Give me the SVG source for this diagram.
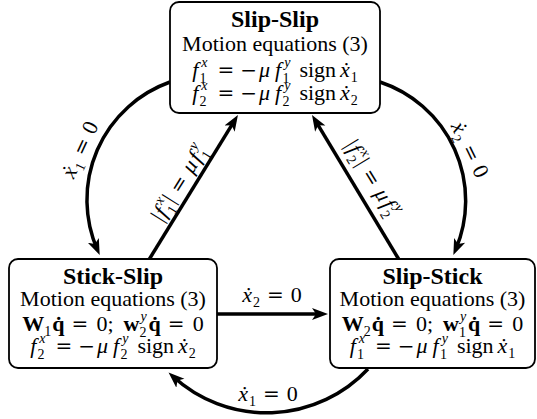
<svg xmlns="http://www.w3.org/2000/svg" width="537" height="419" viewBox="0 0 537 419">
<style>
.box{fill:#fff;stroke:#000;stroke-width:1.8}
.e{fill:none;stroke:#000;stroke-width:3.5;marker-end:url(#ah)}
.t{font-family:"Liberation Serif","Times New Roman",serif;font-size:22px;fill:#000;text-anchor:middle}
.h{font-size:24px;font-weight:bold}
.b{font-weight:bold}
.i{font-style:italic}
.s{font-size:14px}
.r{font-family:"DejaVu Serif","Liberation Serif",serif;font-size:20px;font-style:normal}
</style>
<defs>
<marker id="ah" markerUnits="userSpaceOnUse" markerWidth="18" markerHeight="14" viewBox="0 -7 18 14" refX="10" refY="0" orient="auto">
<path d="M0,-6 L16,0 L0,6 L4,0 Z" fill="#000"/>
</marker>
</defs>
<rect width="537" height="419" fill="#fff"/>
<g id="connectors">
<path class="e" d="M170,82 A125,125 0 0 0 97.3,249.6"/>
<path class="e" d="M380,82 A125,125 0 0 1 455.7,249.6"/>
<path class="e" d="M149.4,259 L234.8,120.1"/>
<path class="e" d="M398.6,259 L315.1,120.1"/>
<path class="e" d="M217,314 L322,314"/>
<path class="e" d="M368,369 A139,139 0 0 1 173,376.5"/>
<text class="t" transform="translate(81,150) rotate(-65)" x="0" y="6"><tspan class="i">ẋ</tspan><tspan class="s" dx="1" dy="5">1</tspan><tspan class="r" dx="7" dy="-5">=</tspan><tspan dx="7">0</tspan></text>
<text class="t" transform="translate(469,150) rotate(64)" x="0" y="6"><tspan class="i">ẋ</tspan><tspan class="s" dx="1" dy="5">2</tspan><tspan class="r" dx="7" dy="-5">=</tspan><tspan dx="7">0</tspan></text>
<text class="t" x="272" y="302"><tspan class="i">ẋ</tspan><tspan class="s" dx="1" dy="5">2</tspan><tspan class="r" dx="7" dy="-5">=</tspan><tspan dx="7">0</tspan></text>
<text class="t" x="268" y="401"><tspan class="i">ẋ</tspan><tspan class="s" dx="1" dy="5">1</tspan><tspan class="r" dx="7" dy="-5">=</tspan><tspan dx="7">0</tspan></text>
<text class="t" transform="translate(179,183) rotate(-58)" x="0" y="7"><tspan>|</tspan><tspan class="i" dx="1">f</tspan><tspan class="s i" dx="3" dy="-10">x</tspan><tspan class="s" dx="-8" dy="16">1</tspan><tspan dx="2" dy="-6">|</tspan><tspan class="r" dx="7">=</tspan><tspan class="i" dx="7">μ</tspan><tspan class="i" dx="2">f</tspan><tspan class="s i" dx="3" dy="-10">y</tspan><tspan class="s" dx="-8" dy="16">1</tspan></text>
<text class="t" transform="translate(372.5,178) rotate(58.5)" x="0" y="7"><tspan>|</tspan><tspan class="i" dx="1">f</tspan><tspan class="s i" dx="3" dy="-10">x</tspan><tspan class="s" dx="-8" dy="16">2</tspan><tspan dx="2" dy="-6">|</tspan><tspan class="r" dx="7">=</tspan><tspan class="i" dx="7">μ</tspan><tspan class="i" dx="2">f</tspan><tspan class="s i" dx="3" dy="-10">y</tspan><tspan class="s" dx="-8" dy="16">2</tspan></text>
</g>
<g id="slip-slip">
<rect class="box" x="170" y="2" width="210" height="111" rx="9"/>
<text class="t h" x="275" y="27">Slip-Slip</text>
<text class="t" x="275" y="51">Motion equations (3)</text>
<text class="t" x="275" y="77"><tspan class="i">f</tspan><tspan class="s i" dx="3" dy="-10">x</tspan><tspan class="s" dx="-8" dy="16">1</tspan><tspan class="r" dx="11" dy="-6">=</tspan><tspan class="r" dx="6">−</tspan><tspan class="i" dx="2">μ</tspan><tspan class="i" dx="5">f</tspan><tspan class="s i" dx="3" dy="-10">y</tspan><tspan class="s" dx="-8" dy="16">1</tspan><tspan dx="10" dy="-6">sign</tspan><tspan class="i" dx="4">ẋ</tspan><tspan class="s" dx="1" dy="5">1</tspan></text>
<text class="t" x="275" y="100"><tspan class="i">f</tspan><tspan class="s i" dx="3" dy="-10">x</tspan><tspan class="s" dx="-8" dy="16">2</tspan><tspan class="r" dx="11" dy="-6">=</tspan><tspan class="r" dx="6">−</tspan><tspan class="i" dx="2">μ</tspan><tspan class="i" dx="5">f</tspan><tspan class="s i" dx="3" dy="-10">y</tspan><tspan class="s" dx="-8" dy="16">2</tspan><tspan dx="10" dy="-6">sign</tspan><tspan class="i" dx="4">ẋ</tspan><tspan class="s" dx="1" dy="5">2</tspan></text>
</g>
<g id="stick-slip">
<rect class="box" x="9" y="259" width="208" height="109" rx="9"/>
<text class="t h" x="113" y="284">Stick-Slip</text>
<text class="t" x="113" y="306">Motion equations (3)</text>
<text class="t" x="113" y="331"><tspan class="b">W</tspan><tspan class="s" dy="5">1</tspan><tspan class="b" dx="1" dy="-5">q̇</tspan><tspan class="r" dx="7">=</tspan><tspan dx="8">0;</tspan><tspan class="b" dx="10">w</tspan><tspan class="s i" dx="1" dy="-10">y</tspan><tspan class="s" dx="-7" dy="16">2</tspan><tspan class="b" dx="2" dy="-6">q̇</tspan><tspan class="r" dx="7">=</tspan><tspan dx="8">0</tspan></text>
<text class="t" x="113" y="353"><tspan class="i">f</tspan><tspan class="s i" dx="3" dy="-10">x</tspan><tspan class="s" dx="-8" dy="16">2</tspan><tspan class="r" dx="11" dy="-6">=</tspan><tspan class="r" dx="6">−</tspan><tspan class="i" dx="2">μ</tspan><tspan class="i" dx="5">f</tspan><tspan class="s i" dx="3" dy="-10">y</tspan><tspan class="s" dx="-8" dy="16">2</tspan><tspan dx="10" dy="-6">sign</tspan><tspan class="i" dx="4">ẋ</tspan><tspan class="s" dx="1" dy="5">2</tspan></text>
</g>
<g id="slip-stick">
<rect class="box" x="330" y="259" width="205" height="109" rx="9"/>
<text class="t h" x="432.5" y="284">Slip-Stick</text>
<text class="t" x="432.5" y="306">Motion equations (3)</text>
<text class="t" x="432.5" y="331"><tspan class="b">W</tspan><tspan class="s" dy="5">2</tspan><tspan class="b" dx="1" dy="-5">q̇</tspan><tspan class="r" dx="7">=</tspan><tspan dx="8">0;</tspan><tspan class="b" dx="10">w</tspan><tspan class="s i" dx="1" dy="-10">y</tspan><tspan class="s" dx="-7" dy="16">1</tspan><tspan class="b" dx="2" dy="-6">q̇</tspan><tspan class="r" dx="7">=</tspan><tspan dx="8">0</tspan></text>
<text class="t" x="432.5" y="353"><tspan class="i">f</tspan><tspan class="s i" dx="3" dy="-10">x</tspan><tspan class="s" dx="-8" dy="16">1</tspan><tspan class="r" dx="11" dy="-6">=</tspan><tspan class="r" dx="6">−</tspan><tspan class="i" dx="2">μ</tspan><tspan class="i" dx="5">f</tspan><tspan class="s i" dx="3" dy="-10">y</tspan><tspan class="s" dx="-8" dy="16">1</tspan><tspan dx="10" dy="-6">sign</tspan><tspan class="i" dx="4">ẋ</tspan><tspan class="s" dx="1" dy="5">1</tspan></text>
</g>
</svg>
